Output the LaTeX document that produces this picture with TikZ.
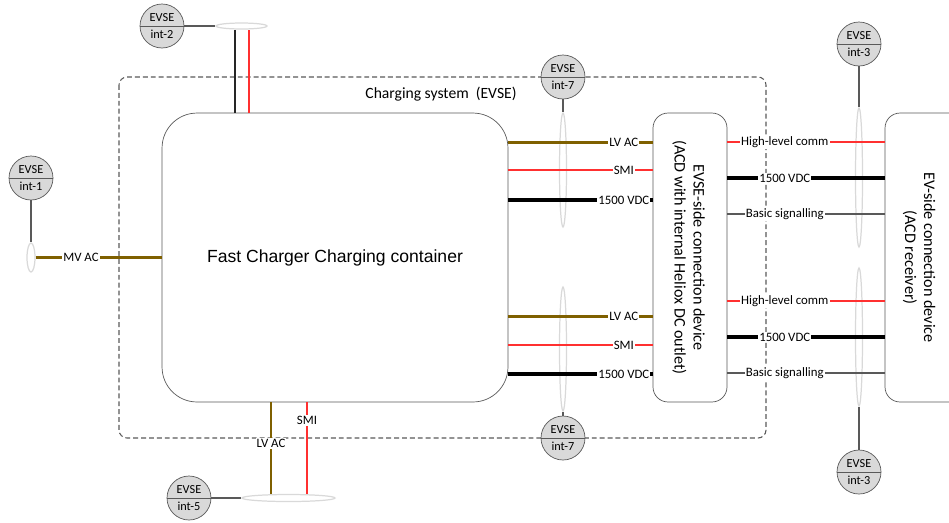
\documentclass[tikz,border=0pt]{standalone}
\usepackage{fontspec}
\setmainfont{Carlito}
\newfontfamily\arialfont{Liberation Sans}
\usetikzlibrary{positioning,shapes.geometric}

\definecolor{acbrown}{HTML}{7F6000}
\definecolor{smired}{HTML}{FF3030}
\definecolor{ringgray}{HTML}{D9D9D9}
\definecolor{edgegray}{HTML}{595959}

\tikzset{
  evse/.style={draw=edgegray, fill=ringgray, circle, minimum size=0.88cm, inner sep=0pt,
    align=center, font=\fontsize{7}{8}\selectfont,
    path picture={\draw[edgegray] (path picture bounding box.west) -- (path picture bounding box.east);}},
  bundle/.style={draw=ringgray, ellipse, inner sep=0pt, line width=0.7pt},
  unit/.style={draw=edgegray, rounded corners=0.3cm, minimum width=1.48cm, minimum height=5.78cm, inner sep=0pt},
  unittext/.style={rotate=-90, align=center, font=\fontsize{9.2}{10.8}\selectfont},
  lvac/.style={draw=acbrown, line width=1.7pt},
  smi/.style={draw=smired, line width=0.8pt},
  vdc/.style={draw=black, line width=2.4pt},
  sig/.style={draw=edgegray, line width=0.6pt},
  lbl/.style={fill=white, inner sep=0.6pt, text=black, font=\fontsize{7.3}{8}\selectfont},
}

\begin{document}
\begin{tikzpicture}[x=0.02cm, y=-0.02cm]
    \useasboundingbox (0,0) rectangle (949,522);
    \clip (0,0) rectangle (949,522);

    % charging system frame
    \draw[edgegray, line width=0.6pt, dash pattern=on 2.8pt off 1.7pt, rounded corners=0.16cm] (119,77) rectangle (766,438);
    \node (systitle) [font=\fontsize{8.9}{10}\selectfont] at (441,94) {Charging system\ \ (EVSE)};

    % cable bundles
    \node (b1) [bundle, minimum width=0.16cm, minimum height=0.58cm] at (31,257.5) {};
    \node (b2) [bundle, minimum width=1.02cm, minimum height=0.12cm] at (241.5,26) {};
    \node (b5) [bundle, minimum width=1.86cm, minimum height=0.14cm] at (288.5,498) {};
    \node (b7a) [bundle, minimum width=0.14cm, minimum height=2.28cm] at (563,170) {};
    \node (b7b) [bundle, minimum width=0.14cm, minimum height=2.48cm] at (563,349) {};
    \node (b3a) [bundle, minimum width=0.14cm, minimum height=2.78cm] at (859,177.5) {};
    \node (b3b) [bundle, minimum width=0.14cm, minimum height=2.76cm] at (859,337) {};

    % devices
    \node (dev) [draw=edgegray, rounded corners=0.7cm, minimum width=6.92cm, minimum height=5.78cm,
        font=\arialfont\fontsize{10}{12}\selectfont] at (335,257.5) {Fast Charger Charging container};
    \node (acd) [unit] at (690,257.5) {};
    \node (acdtxt) [unittext] at (688.5,257.5) {EVSE-side connection device\\(ACD with internal Heliox DC outlet)};
    \node (ev) [unit, minimum width=2cm] at (935,257.5) {};
    \node (evtxt) [unittext] at (919,257.5) {EV-side connection device\\(ACD receiver)};

    % MV supply
    \draw[lvac] (b1.east) -- node[lbl, pos=0.36] {MV AC} (dev.west |- b1.east);

    % top feed
    \draw[draw=black!85, line width=0.6pt] (dev.north -| 235,0) -- (b2.south -| 235,0);
    \draw[smi] (dev.north -| 249,0) -- (b2.south -| 249,0);

    % bottom feed
    \draw[lvac] (dev.south -| 271,0) -- node[lbl, pos=0.45] {LV AC} (b5.north -| 271,0);
    \draw[smi] (dev.south -| 307,0) -- node[lbl, pos=0.2] {SMI} (b5.north -| 307,0);

    % container to EVSE-side device
    \draw[lvac] (dev.east |- 0,142) -- node[lbl, pos=0.8] {LV AC} (acd.west |- 0,142);
    \draw[smi] (dev.east |- 0,170) -- node[lbl, pos=0.8] {SMI} (acd.west |- 0,170);
    \draw[vdc] (dev.east |- 0,200) -- node[lbl, pos=0.8] {1500 VDC} (acd.west |- 0,200);
    \draw[lvac] (dev.east |- 0,316) -- node[lbl, pos=0.8] {LV AC} (acd.west |- 0,316);
    \draw[smi] (dev.east |- 0,345) -- node[lbl, pos=0.8] {SMI} (acd.west |- 0,345);
    \draw[vdc] (dev.east |- 0,374) -- node[lbl, pos=0.8] {1500 VDC} (acd.west |- 0,374);

    % EVSE-side to EV-side device
    \draw[smi] (acd.east |- 0,142) -- node[lbl, pos=0.365] {High-level comm} (ev.west |- 0,142);
    \draw[vdc] (acd.east |- 0,178) -- node[lbl, pos=0.365] {1500 VDC} (ev.west |- 0,178);
    \draw[sig] (acd.east |- 0,214) -- node[lbl, pos=0.365] {Basic signalling} (ev.west |- 0,214);
    \draw[smi] (acd.east |- 0,301) -- node[lbl, pos=0.365] {High-level comm} (ev.west |- 0,301);
    \draw[vdc] (acd.east |- 0,337) -- node[lbl, pos=0.365] {1500 VDC} (ev.west |- 0,337);
    \draw[sig] (acd.east |- 0,373) -- node[lbl, pos=0.365] {Basic signalling} (ev.west |- 0,373);

    % interfaces
    \node (c1) [evse] at (31,178) {EVSE\\[2pt]int-1};
    \node (c2) [evse] at (162,26) {EVSE\\[2pt]int-2};
    \node (c5) [evse] at (189,498) {EVSE\\[2pt]int-5};
    \node (c7a) [evse] at (563,77) {EVSE\\[2pt]int-7};
    \node (c7b) [evse] at (563,438) {EVSE\\[2pt]int-7};
    \node (c3a) [evse] at (859,44) {EVSE\\[2pt]int-3};
    \node (c3b) [evse] at (859,472) {EVSE\\[2pt]int-3};

    \draw[sig] (c1) -- (b1);
    \draw[sig] (c2) -- (b2);
    \draw[sig] (c5) -- (b5);
    \draw[sig] (c7a) -- (b7a);
    \draw[sig] (c7b) -- (b7b);
    \draw[sig] (c3a) -- (b3a);
    \draw[sig] (c3b) -- (b3b);
\end{tikzpicture}
\end{document}
